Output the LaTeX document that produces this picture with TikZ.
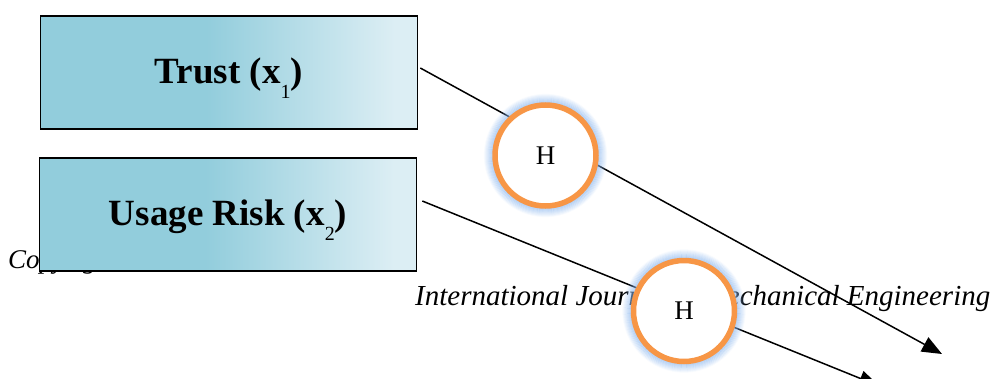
\documentclass[tikz,border=0pt]{standalone}
\usepackage{fontspec}
\setmainfont{Liberation Serif}
\usetikzlibrary{arrows.meta}
\definecolor{boxA}{HTML}{92CDDC}
\definecolor{boxB}{HTML}{DCEEF4}
\definecolor{ringorange}{HTML}{F79646}
\definecolor{glowblue}{HTML}{8AB6EE}
\pgfdeclarehorizontalshading{boxshade}{100bp}{color(0bp)=(boxA); color(25bp)=(boxA); color(47bp)=(boxA); color(72bp)=(boxB); color(100bp)=(boxB)}
\newcommand{\subidx}[1]{\raisebox{-15pt}{\fontsize{20}{20}\selectfont\mdseries #1}}
\tikzset{
  factor/.style={draw=black, line width=1.6pt, shade, shading=boxshade,
    minimum width=377pt, minimum height=113pt, inner sep=0pt,
    text height=22pt, text depth=0pt,
    font=\fontsize{37}{40}\selectfont\bfseries},
  hnode/.style={circle, draw=ringorange, line width=5.5pt, fill=white,
    minimum size=101pt, inner sep=0pt, font=\fontsize{27}{30}\selectfont},
  link/.style={line width=1.5pt, -{Triangle[length=20pt,width=16pt]}},
  stray/.style={font=\fontsize{#1}{#1}\selectfont\itshape, inner sep=0pt, anchor=base west},
  glowring/.style={glowblue, line width=1.3pt},
}
\begin{document}
\begin{tikzpicture}[x=1pt,y=-1pt]
\useasboundingbox (0,0) rectangle (997,378);
\clip (0,0) rectangle (997,378);
% stray page texts behind the figure
\node[stray=27] (cr) at (8,268) {Copyright};
\node[stray=29] (ij) at (415,305) {International Journal of Mechanical Engineering};
% factor boxes
\node[factor] (b1) at (229,72.5) {Trust (x\subidx{1})};
\node[factor] (b2) at (228,214.5) {Usage Risk (x\subidx{2})};
% end points and circle centres
\coordinate (t1) at (942,354);
\coordinate (t2) at (879,386);
\coordinate (c1) at (545.5,155.5);
\coordinate (c2) at (684,311);
% connectors
\draw[link] ([shift={(2pt,4.5pt)}]b1.east) -- (t1);
\draw[link] ([shift={(5pt,13.5pt)}]b2.east) -- (t2);
% glows
\foreach \k in {1,...,9}{
  \pgfmathsetmacro{\op}{0.6*(1-\k/10)}
  \draw[glowring, opacity=\op] (c1) circle[radius={(52+\k)*1pt}];
  \draw[glowring, opacity=\op] (c2) circle[radius={(52+\k)*1pt}];
}
% hypothesis circles
\node[hnode] (h1) at (c1) {H};
\node[hnode] (h2) at (c2) {H};
\end{tikzpicture}
\end{document}
